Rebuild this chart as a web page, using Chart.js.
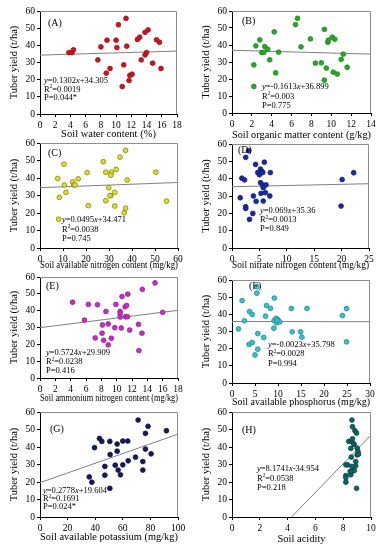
<!DOCTYPE html>
<html>
<head>
<meta charset="utf-8">
<script src="https://cdn.jsdelivr.net/npm/chart.js@4.4.0/dist/chart.umd.min.js"></script>
<style>
  body { margin: 0; background: #fff; width: 379px; height: 550px; position: relative; overflow: hidden; }
  canvas { position: absolute; }
</style>
</head>
<body>
<canvas id="cA"></canvas>
<canvas id="cB"></canvas>
<canvas id="cC"></canvas>
<canvas id="cD"></canvas>
<canvas id="cE"></canvas>
<canvas id="cF"></canvas>
<canvas id="cG"></canvas>
<canvas id="cH"></canvas>
<script>
const FONT = "'Liberation Serif', 'Times New Roman', serif";
const yTitle = "Tuber yield (t/ha)";

// (A) soil water content (%)
const waterX = [3.8, 4.2, 4.4, 7.6, 8.0, 8.7, 8.8, 9.2, 10.0, 10.1, 10.3, 10.8, 11.0, 11.3, 11.4, 11.7, 11.8, 12.1, 12.8, 13.1, 13.3, 13.8, 13.8, 14.0, 14.2, 14.8, 15.3, 15.7, 15.9];
const waterY = [35.8, 35.8, 37.4, 31.5, 39.1, 23.8, 43, 26.5, 43, 38.7, 52, 16, 28.6, 55.7, 39.5, 19.5, 22.5, 23.2, 43.4, 44.7, 31.5, 47.6, 34.4, 35.8, 49, 29.6, 43.2, 41.8, 26.5];
const waterFitX = [0, 18];
const waterFitY = [34.31, 36.65];

// (B) soil organic matter content (g/kg)
const organicX = [2.2, 2.2, 2.4, 2.8, 3.0, 3.2, 3.3, 3.6, 3.8, 4.25, 4.4, 4.7, 6.4, 6.6, 6.95, 7.9, 8.4, 9.0, 9.3, 9.3, 9.5, 9.65, 9.7, 10.1, 10.35, 10.2, 10.6, 11.0, 11.2, 11.6];
const organicY = [28.3, 15.6, 39.5, 43, 35.6, 35.6, 39.1, 37.5, 31.3, 47.7, 23.6, 35.8, 52, 55.7, 38.9, 43.6, 29.3, 29.5, 49.2, 19.3, 26.4, 41.6, 42.8, 44.6, 43.4, 24, 22.9, 31.5, 34.6, 26.9];
const organicFitX = [0, 14];
const organicFitY = [36.90, 34.64];

// (C) soil available nitrogen content (mg/kg)
const nitrogenX = [7.7, 8.4, 8.1, 10.4, 10.6, 11.3, 14.2, 14.7, 15.2, 16.6, 20.5, 21, 27.5, 28.6, 28.6, 29.9, 30.7, 31, 30.8, 30.4, 32.5, 32.5, 33.1, 34.8, 36.6, 37.2, 37.2, 37.9, 50.4, 55];
const nitrogenY = [39.7, 28.9, 16.5, 47.9, 36, 31.8, 37.8, 36, 36, 39.5, 43.1, 24.2, 49.3, 43.3, 27, 34.5, 29.9, 43.3, 41.6, 29.9, 31.8, 24, 44.9, 51.9, 20.1, 22.8, 55.8, 38.9, 43.3, 26.8];
const nitrogenFitX = [0, 60];
const nitrogenFitY = [34.47, 37.44];

// (D) soil nitrate nitrogen content (mg/kg)
const nitrateX = [3.0, 2.5, 1.8, 2.3, 1.5, 2.5, 2.5, 3.2, 3.8, 3.9, 4.3, 4.4, 4.7, 5.0, 5.2, 5.3, 5.2, 5.3, 5.5, 5.6, 5.7, 5.7, 5.9, 6.2, 6.1, 6.9, 7.0, 5.6, 20.1, 19.9, 22.2];
const nitrateY = [56.1, 52.3, 40.3, 39.3, 29, 23.8, 22.8, 16.5, 19.9, 30, 48.2, 26.9, 43.5, 42.2, 45.5, 43.5, 37.7, 31.5, 44.1, 36.4, 34.8, 27.1, 49.5, 36.4, 31.9, 30, 43.5, 43.5, 39.5, 24.2, 43.4];
const nitrateFitX = [0, 25];
const nitrateFitY = [35.36, 37.09];

// (E) soil ammonium nitrogen content (mg/kg)
const ammoniumX = [4.25, 6.3, 5.8, 7.5, 7.2, 8.15, 8.1, 8.3, 8.6, 8.9, 8.9, 9.3, 9.75, 9.9, 10.45, 10.45, 10.45, 10.6, 10.7, 11.1, 11.3, 11.15, 11.4, 11.45, 11.7, 12.85, 12.9, 13.35, 13.3, 15.0, 16.0];
const ammoniumY = [45, 43.7, 34.4, 43.5, 23.8, 31.5, 26.6, 22.4, 39.5, 19.7, 32.1, 23.6, 29.9, 43.7, 39.5, 38.1, 36.2, 29.7, 48.4, 42.3, 43.1, 36.4, 36.4, 49.8, 28.5, 31.9, 16.3, 52.7, 26.6, 56.5, 39];
const ammoniumFitX = [0, 18];
const ammoniumFitY = [29.91, 40.21];

// (F) soil available phosphorus (mg/kg)
const phosphorusX = [1.4, 2.2, 2.7, 3.8, 4.4, 3.7, 4.4, 5.0, 5.4, 5.4, 5.6, 5.6, 6.9, 7.3, 7.5, 8.35, 9.2, 9.1, 9.15, 9.6, 9.7, 10.0, 10.4, 9.8, 12.9, 13.1, 16.3, 14.9, 15.2, 24.0, 24.9, 24.9];
const phosphorusY = [31.5, 48, 36.2, 41.6, 39.9, 22.5, 23.6, 16.3, 56.1, 52.3, 28.8, 19.7, 26.5, 38.9, 45.1, 43.5, 49.5, 31.9, 36.4, 37.7, 35, 36.8, 35.6, 36.6, 43.4, 29.8, 43.4, 29.8, 26.7, 39.3, 43.4, 24];
const phosphorusFitX = [0, 30];
const phosphorusFitY = [35.80, 35.73];

// (G) soil available potassium (mg/kg)
const potassiumX = [35.7, 37.6, 39.5, 43.1, 44.8, 47, 47, 50.6, 50.8, 50.6, 54.5, 55.9, 55.9, 56.6, 58.3, 60, 60, 63.6, 63.9, 69.2, 71.1, 74.5, 74.5, 76.4, 76.4, 78.3, 80.5, 91.6];
const potassiumY = [22.9, 19.9, 39.6, 44.9, 43.2, 28.9, 23.9, 43.2, 35.7, 16.4, 29.6, 41.7, 37.6, 26.8, 24.1, 43.4, 29.8, 43.4, 32.1, 34.2, 55.4, 31.7, 26.8, 47.8, 38.8, 51.8, 36.1, 49.3];
const potassiumFitX = [0, 100];
const potassiumFitY = [19.60, 47.38];

// (H) soil acidity
const acidityX = [8.63, 8.67, 8.84, 8.96, 8.4, 8.6, 8.67, 8.77, 8.55, 9.0, 9.06, 9.0, 9.1, 8.58, 8.31, 8.19, 8.9, 8.19, 8.19, 8.19, 8.55, 8.7, 8.8, 8.9, 8.62, 8.96, 8.5, 8.77];
const acidityY = [55.4, 51.6, 49.3, 48, 43.2, 43.2, 44.7, 41.7, 39.2, 39.4, 37.5, 35.5, 35.9, 34.2, 29.8, 29.8, 31.7, 23.7, 19.9, 22.5, 24.1, 26.4, 26.6, 29.2, 28.9, 16.4, 26, 41.7];
const acidityFitX = [4.28, 10];
const acidityFitY = [0, 46.79];

const panels = [
  { id: "cA", label: "(A)", left: 40, top: 11, w: 137, h: 103, xs: waterX, ys: waterY, fx: waterFitX, fy: waterFitY,
    xMax: 18, xStep: 2, xTitle: "Soil water content (%)", xOff: 21, fill: "#c8161d", edge: "#a01015",
    lab: [8, 12], eq: [4, 70, 8.6], lines: ["y=0.1302x+34.305", "R²=0.0019", "P=0.044*"] },
  { id: "cB", label: "(B)", left: 232, top: 11, w: 139, h: 102, xs: organicX, ys: organicY, fx: organicFitX, fy: organicFitY,
    xMax: 14, xStep: 2, xTitle: "Soil organic matter content (g/kg)", xOff: 23, fill: "#2aa52a", edge: "#1f8a1f",
    lab: [10, 10], eq: [30, 76, 9.3], lines: ["y=-0.1613x+36.899", "R²=0.003", "P=0.775"] },
  { id: "cC", label: "(C)", left: 40, top: 143, w: 138, h: 105, xs: nitrogenX, ys: nitrogenY, fx: nitrogenFitX, fy: nitrogenFitY,
    xMax: 60, xStep: 10, xTitle: "Soil available nitrogen content (mg/kg)", xOff: 18, fill: "#dede2a", edge: "#84840a",
    lab: [8, 10], eq: [22, 77, 9.5], lines: ["y=0.0495x+34.471", "R²=0.0038", "P=0.745"] },
  { id: "cD", label: "(D)", left: 232, top: 144, w: 137, h: 104, xs: nitrateX, ys: nitrateY, fx: nitrateFitX, fy: nitrateFitY,
    xMax: 25, xStep: 5, xTitle: "Soil nitrate nitrogen content (mg/kg)", xOff: 18, fill: "#1c2a9c", edge: "#121e7a",
    lab: [6, 6], eq: [28, 67, 9], lines: ["y=0.069x+35.36", "R²=0.0013", "P=0.849"] },
  { id: "cE", label: "(E)", left: 40, top: 277, w: 138, h: 101, xs: ammoniumX, ys: ammoniumY, fx: ammoniumFitX, fy: ammoniumFitY,
    xMax: 18, xStep: 2, xTitle: "Soil ammonium nitrogen content (mg/kg)", xOff: 21, fill: "#c12fc1", edge: "#9a1f9a",
    lab: [6, 9], eq: [6, 76, 9], lines: ["y=0.5724x+29.909", "R²=0.0238", "P=0.416"] },
  { id: "cF", label: "(F)", left: 232, top: 280, w: 138, h: 103, xs: phosphorusX, ys: phosphorusY, fx: phosphorusFitX, fy: phosphorusFitY,
    xMax: 30, xStep: 5, xTitle: "Soil available phosphorus (mg/kg)", xOff: 20, fill: "#3cc0c8", edge: "#1d8a94",
    lab: [17, 6], eq: [36, 65, 9.2], lines: ["y=-0.0023x+35.798", "R²=0.0028", "P=0.994"] },
  { id: "cG", label: "(G)", left: 40, top: 412, w: 138, h: 105, xs: potassiumX, ys: potassiumY, fx: potassiumFitX, fy: potassiumFitY,
    xMax: 100, xStep: 20, xTitle: "Soil available potassium (mg/kg)", xOff: 21, fill: "#14195a", edge: "#0c1040",
    lab: [10, 17], eq: [3, 79, 8], lines: ["y=0.2778x+19.604", "R²=0.1691", "P=0.024*"] },
  { id: "cH", label: "(H)", left: 232, top: 412, w: 139, h: 105, xs: acidityX, ys: acidityY, fx: acidityFitX, fy: acidityFitY,
    xMax: 10, xStep: 2, xTitle: "Soil acidity", xOff: 23, fill: "#0d6262", edge: "#084646",
    lab: [10, 18], eq: [25, 57, 9.3], lines: ["y=8.1741x-34.954", "R²=0.0538", "P=0.218"] }
];

// equation text with italic x / y and a superscript 2
function richText(ctx, str, x, y, size) {
  let cx = x;
  for (const ch of str) {
    if (ch === "²") {
      ctx.font = (size * 0.62) + "px " + FONT;
      ctx.fillText("2", cx, y - size * 0.33);
      cx += ctx.measureText("2").width;
      continue;
    }
    ctx.font = (ch === "x" || ch === "y" ? "italic " : "") + size + "px " + FONT;
    ctx.fillText(ch, cx, y);
    cx += ctx.measureText(ch).width;
  }
}

function makePanel(p) {
  const cv = document.getElementById(p.id);
  const W = 40 + p.w + 12, H = 11 + p.h + 30;
  cv.width = W;
  cv.height = H;
  cv.style.left = (p.left - 40) + "px";
  cv.style.top = (p.top - 11) + "px";

  const notes = {
    id: "notes",
    afterDatasetsDraw(chart) {
      const { ctx, chartArea: a } = chart;
      ctx.save();
      // frame on the top and right sides
      ctx.strokeStyle = "#8c8c8c";
      ctx.lineWidth = 1;
      ctx.beginPath();
      ctx.moveTo(a.left, a.top + 0.5);
      ctx.lineTo(a.right - 0.5, a.top + 0.5);
      ctx.lineTo(a.right - 0.5, a.bottom);
      ctx.stroke();

      ctx.fillStyle = "#000";
      ctx.textBaseline = "middle";
      ctx.textAlign = "left";
      ctx.font = "10px " + FONT;
      ctx.fillText(p.label, a.left + p.lab[0], a.top + p.lab[1]);
      p.lines.forEach((s, i) => {
        richText(ctx, s, a.left + p.eq[0], a.top + p.eq[1] + i * p.eq[2], 8.5);
      });
      ctx.restore();
    }
  };

  new Chart(cv, {
    type: "scatter",
    data: {
      datasets: [
        {
          data: p.xs.map((x, i) => ({ x: x, y: p.ys[i] })),
          backgroundColor: p.fill,
          borderColor: p.edge,
          borderWidth: 0.8,
          pointRadius: 2.4
        },
        {
          type: "line",
          data: p.fx.map((x, i) => ({ x: x, y: p.fy[i] })),
          borderColor: "#808080",
          borderWidth: 1,
          pointRadius: 0,
          fill: false
        }
      ]
    },
    options: {
      responsive: false,
      animation: false,
      devicePixelRatio: 1,
      layout: { padding: { top: 11, right: 12, left: 0, bottom: 0 } },
      plugins: { legend: { display: false }, tooltip: { enabled: false } },
      scales: {
        x: {
          type: "linear",
          min: 0,
          max: p.xMax,
          ticks: { stepSize: p.xStep, font: { family: FONT, size: 9.5 }, color: "#000", padding: 3, maxRotation: 0 },
          grid: { drawOnChartArea: false, tickLength: 3, color: "#000" },
          border: { color: "#000" },
          title: { display: true, text: p.xTitle, font: { family: FONT, size: 10.5 }, color: "#000", padding: { top: 0, bottom: 24 - p.xOff } },
          afterFit: s => { s.height = 30; }
        },
        y: {
          min: 0,
          max: 60,
          ticks: { stepSize: 10, font: { family: FONT, size: 9.5 }, color: "#000", padding: 2 },
          grid: { drawOnChartArea: false, tickLength: 3, color: "#000" },
          border: { color: "#000" },
          title: { display: true, text: yTitle, font: { family: FONT, size: 10.5 }, color: "#000", padding: { top: 8, bottom: 0 } },
          afterFit: s => { s.width = 40; }
        }
      }
    },
    plugins: [notes]
  });
}

panels.forEach(makePanel);
</script>
</body>
</html>
